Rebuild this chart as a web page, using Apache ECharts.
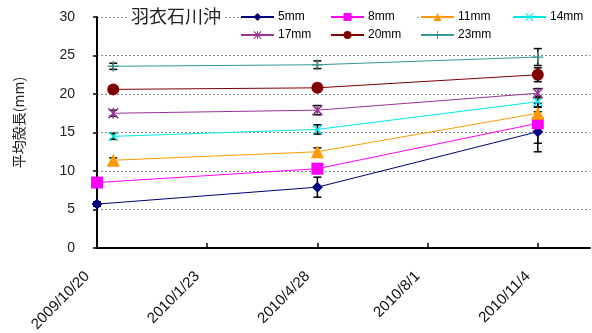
<!DOCTYPE html>
<html>
<head>
<meta charset="utf-8">
<script src="https://cdn.jsdelivr.net/npm/echarts@6/dist/echarts.min.js"></script>
<style>
  html, body { margin: 0; padding: 0; background: #fff; }
  #chart { width: 592px; height: 333px; }
</style>
</head>
<body>
<div id="chart"></div>
<script>
// 調査日 (5mm, 8mm は初回の日付が違う)
var datesSmall = ['2009/10/20', '2010/4/28', '2010/11/4'];
var datesLarge = ['2009/11/3', '2010/4/28', '2010/11/4'];
var tickDates = ['2009/10/20', '2010/1/23', '2010/4/28', '2010/8/1', '2010/11/4'];
var sizeNames = ['5mm', '8mm', '11mm', '14mm', '17mm', '20mm', '23mm'];

// 平均殻長 (mm)
var mean5 = [5.7, 7.9, 15.1];
var mean8 = [8.5, 10.3, 16.2];
var mean11 = [11.4, 12.5, 17.5];
var mean14 = [14.5, 15.4, 19.0];
var mean17 = [17.5, 17.9, 20.1];
var mean20 = [20.6, 20.8, 22.5];
var mean23 = [23.6, 23.8, 24.8];

// 誤差 (±mm)
var err5 = [0.3, 1.3, 2.6];
var err8 = [0.3, 0.4, 2.6];
var err11 = [0.3, 0.5, 0.8];
var err14 = [0.4, 0.6, 0.7];
var err17 = [0.4, 0.6, 0.6];
var err20 = [0.3, 0.3, 0.9];
var err23 = [0.4, 0.5, 1.1];

function dayNum(s) {
  var p = s.split('/').map(Number);
  return Math.round((Date.UTC(p[0], p[1] - 1, p[2]) - Date.UTC(2009, 9, 20)) / 86400000);
}

var symX = 'path://M0,1L1,0L10,9L9,10Z M9,0L10,1L1,10L0,9Z';
var symStar = 'path://M0,1L1,0L10,9L9,10Z M9,0L10,1L1,10L0,9Z M4.4,0L5.6,0L5.6,10L4.4,10Z';
var symPlus = 'path://M4.4,0L5.6,0L5.6,10L4.4,10Z M0,4.4L10,4.4L10,5.6L0,5.6Z';

var groups = [
  { name: '5mm', dates: datesSmall, mean: mean5, err: err5, color: '#000080', symbol: 'diamond', size: 11 },
  { name: '8mm', dates: datesSmall, mean: mean8, err: err8, color: '#ff00ff', symbol: 'rect', size: 12 },
  { name: '11mm', dates: datesLarge, mean: mean11, err: err11, color: '#ff9900', symbol: 'triangle', size: 13 },
  { name: '14mm', dates: datesLarge, mean: mean14, err: err14, color: '#00e8e8', symbol: symX, size: 10 },
  { name: '17mm', dates: datesLarge, mean: mean17, err: err17, color: '#993399', symbol: symStar, size: 11 },
  { name: '20mm', dates: datesLarge, mean: mean20, err: err20, color: '#800000', symbol: 'circle', size: 12 },
  { name: '23mm', dates: datesLarge, mean: mean23, err: err23, color: '#339999', symbol: symPlus, size: 11 }
];

var series = [];
var errData = [];
groups.forEach(function (g) {
  var d = [];
  for (var i = 0; i < g.mean.length; i++) {
    d.push([dayNum(g.dates[i]), g.mean[i]]);
    errData.push([dayNum(g.dates[i]), g.mean[i] - g.err[i], g.mean[i] + g.err[i]]);
  }
  series.push({
    name: g.name,
    type: 'line',
    data: d,
    symbol: g.symbol,
    symbolSize: g.size,
    showAllSymbol: true,
    z: 3,
    lineStyle: { width: 1, color: g.color },
    itemStyle: { color: g.color }
  });
});

series.push({
  type: 'custom',
  z: 2,
  data: errData,
  renderItem: function (params, api) {
    var lo = api.coord([api.value(0), api.value(1)]);
    var hi = api.coord([api.value(0), api.value(2)]);
    var w = 4;
    var st = { stroke: '#000', lineWidth: 1.5 };
    return {
      type: 'group',
      children: [
        { type: 'line', shape: { x1: lo[0], y1: lo[1], x2: hi[0], y2: hi[1] }, style: st },
        { type: 'line', shape: { x1: lo[0] - w, y1: lo[1], x2: lo[0] + w, y2: lo[1] }, style: st },
        { type: 'line', shape: { x1: hi[0] - w, y1: hi[1], x2: hi[0] + w, y2: hi[1] }, style: st }
      ]
    };
  }
});

function makeLegend(names, left, padRight) {
  return {
    orient: 'vertical',
    left: left,
    top: 11,
    itemWidth: 33,
    itemHeight: 10,
    itemGap: 6,
    padding: [0, padRight, 0, 0],
    backgroundColor: '#fff',
    data: names,
    textStyle: { fontSize: 12, color: '#000', fontFamily: 'Liberation Sans, Arial', padding: [0, 0, 0, -1] }
  };
}

var tickDays = tickDates.map(dayNum);
var chart = echarts.init(document.getElementById('chart'));
chart.setOption({
  animation: false,
  backgroundColor: '#fff',
  title: {
    text: '羽衣石川沖',
    left: 128,
    top: 7,
    padding: [0, 3, 0, 3],
    backgroundColor: '#fff',
    textStyle: { fontSize: 18, fontWeight: 'normal', color: '#222', fontFamily: 'Noto Sans CJK JP' }
  },
  legend: [
    makeLegend(['5mm', '17mm'], 240, 20),
    makeLegend(['8mm', '20mm'], 330, 14),
    makeLegend(['11mm', '23mm'], 420, 20),
    makeLegend(['14mm'], 512, 10)
  ],
  grid: { left: 97, right: 2, top: 17, bottom: 85, outerBoundsMode: 'none' },
  xAxis: {
    type: 'value',
    min: 0,
    max: 425,
    splitLine: { show: false },
    axisLine: { onZero: false, lineStyle: { color: '#000', width: 2 } },
    axisTick: { inside: true, length: 5, customValues: tickDays, lineStyle: { color: '#000', width: 1.5 } },
    axisLabel: {
      customValues: tickDays,
      rotate: 45,
      margin: 16,
      padding: [0, 14, 0, 0],
      fontSize: 15,
      color: '#111',
      fontFamily: 'Liberation Sans, Arial',
      formatter: function (v) {
        var i = tickDays.indexOf(Math.round(v));
        return i >= 0 ? tickDates[i] : '';
      }
    }
  },
  yAxis: {
    type: 'value',
    min: 0,
    max: 30,
    interval: 5,
    name: '平均殻長(mm)',
    nameLocation: 'middle',
    nameRotate: 90,
    nameGap: 71,
    nameTextStyle: { fontSize: 14, color: '#222', fontFamily: 'Noto Sans CJK JP', padding: [0, 0, 0, 20] },
    axisLine: { show: true, lineStyle: { color: '#000', width: 2 } },
    axisTick: { show: true, length: 4, lineStyle: { color: '#000', width: 1.5 } },
    axisLabel: { fontSize: 14, color: '#222', margin: 22, fontFamily: 'Liberation Sans, Arial' },
    splitLine: { show: true, lineStyle: { color: '#888', type: [2, 2], width: 1 } }
  },
  series: series
});
</script>
</body>
</html>
